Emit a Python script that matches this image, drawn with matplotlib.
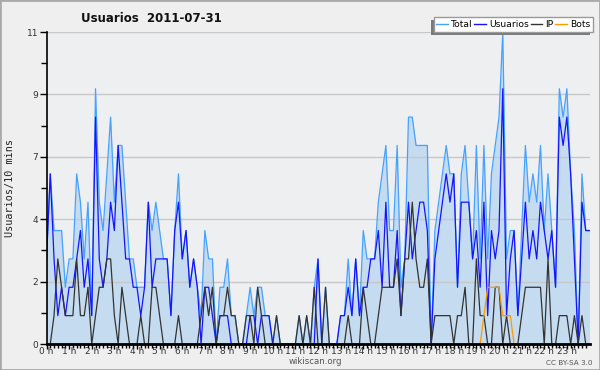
import matplotlib
matplotlib.use('Agg')
import matplotlib.pyplot as plt
import numpy as np
from matplotlib.patches import Rectangle
from matplotlib.lines import Line2D
from matplotlib.transforms import IdentityTransform

plt.rcParams['font.family'] = ['DejaVu Sans']

# values per 10 minutes, 00:00 .. 24:00
total = [3, 6, 4, 4, 4, 2, 3, 3, 6, 5, 3, 5, 1, 9, 5, 4, 6, 8, 5, 7, 7, 5, 3, 3, 2, 2, 2, 5,
         4, 5, 4, 3, 3, 1, 4, 6, 3, 4, 2, 3, 2, 1, 4, 3, 3, 0, 2, 2, 3, 1, 1, 0, 0, 1, 2, 1, 2, 2, 1, 1, 0,
         1, 0, 0, 0, 0, 0, 1, 0, 1, 0, 2, 3, 0, 2, 0, 0, 0, 1, 1, 3, 1, 3, 1, 4,
         3, 3, 3, 5, 6, 7, 4, 4, 7, 2, 3, 8, 8, 7, 7, 7, 7,
         0, 4, 5, 6, 7, 6, 6, 2, 6, 7, 5, 3, 7, 3, 7, 3, 6, 7, 8, 11, 3, 4, 4, 1, 4, 7, 5, 6, 5, 7,
         4, 6, 4, 2, 9, 8, 9, 6, 4, 0, 6, 4, 4]
usuarios = [3, 6, 3, 1, 2, 1, 2, 2, 3, 4, 2, 3, 1, 8, 3, 2, 3, 5, 4, 7, 5, 3, 3, 2, 2, 1, 2, 5,
            2, 3, 3, 3, 3, 1, 4, 5, 3, 4, 2, 3, 2, 0, 2, 2, 1, 0, 1, 1, 1, 0, 0, 0, 0, 0, 1, 1, 0, 1, 1, 1, 0,
            0, 0, 0, 0, 0, 0, 0, 0, 0, 0, 0, 3, 0, 0, 0, 0, 0, 1, 1, 2, 1, 3, 1, 2,
            2, 3, 3, 4, 2, 5, 2, 2, 4, 1, 3, 5, 3, 4, 5, 5, 4,
            0, 3, 4, 5, 6, 5, 6, 2, 5, 5, 5, 3, 4, 2, 5, 1, 4, 3, 4, 9, 1, 3, 4, 1, 3, 5, 3, 4, 3, 5,
            4, 3, 4, 2, 8, 7, 8, 6, 3, 0, 5, 4, 4]
ip = [0, 0, 1, 3, 2, 1, 1, 1, 3, 1, 1, 2, 0, 1, 2, 2, 3, 3, 1, 0, 2, 1, 0, 0, 0, 1, 0, 0,
      2, 2, 1, 0, 0, 0, 0, 1, 0, 0, 0, 0, 0, 1, 2, 1, 2, 0, 1, 1, 2, 1, 1, 0, 0, 1, 1, 0, 2, 1, 0, 0, 0,
      1, 0, 0, 0, 0, 0, 1, 0, 1, 0, 2, 0, 0, 2, 0, 0, 0, 0, 0, 1, 0, 0, 0, 2,
      1, 0, 0, 1, 2, 2, 2, 2, 3, 1, 3, 3, 5, 3, 2, 2, 3,
      0, 1, 1, 1, 1, 1, 0, 1, 1, 2, 0, 0, 3, 1, 1, 0, 0, 2, 2, 0, 1, 0, 0, 0, 1, 2, 2, 2, 2, 2,
      0, 3, 0, 0, 1, 1, 1, 0, 1, 0, 1, 0, 0]
bots = [0, 0, 0, 0, 0, 0, 0, 0, 0, 0, 0, 0, 0, 0, 0, 0, 0, 0, 0, 0, 0, 0, 0, 0, 0, 0, 0, 0,
        0, 0, 0, 0, 0, 0, 0, 0, 0, 0, 0, 0, 0, 0, 0, 0, 0, 0, 0, 0, 0, 0, 0, 0, 0, 0, 0, 0, 0, 0, 0, 0, 0,
        0, 0, 0, 0, 0, 0, 0, 0, 0, 0, 0, 0, 0, 0, 0, 0, 0, 0, 0, 0, 0, 0, 0, 0,
        0, 0, 0, 0, 0, 0, 0, 0, 0, 0, 0, 0, 0, 0, 0, 0, 0,
        0, 0, 0, 0, 0, 0, 0, 0, 0, 0, 0, 0, 0, 0, 1, 2, 2, 2, 2, 1, 1, 1, 0, 0, 0, 0, 0, 0, 0, 0,
        0, 0, 0, 0, 0, 0, 0, 0, 0, 0, 0, 0, 0]

hour_labels = ['%d h' % h for h in range(24)]
y_ticks = [0, 2.2, 4.4, 6.6, 8.8, 11]
y_tick_labels = ['0', '2', '4', '7', '9', '11']
series_names = ['Total', 'Usuarios', 'IP', 'Bots']
colors = ['#45a2ff', '#1414ff', '#333333', '#ff9900']

W, H = 600, 370
fig = plt.figure(figsize=(6, 3.7), dpi=100, facecolor='#efefef')
ax = fig.add_axes([46.5 / W, 26 / H, 543 / W, 312 / H])
ax.set_facecolor('#eeeff1')

x = np.arange(len(total)) / 6.0
ax.fill_between(x, total, 0, color='#c4dbf0', lw=0, zorder=1)
for vals, c, z in zip([total, usuarios, ip, bots], colors, [3, 4, 5, 6]):
    ax.plot(x, vals, color=c, lw=0.9, zorder=z)

ax.set_xlim(0, 24)
ax.set_ylim(0, 11)
ax.set_axisbelow('line')
ax.yaxis.grid(True, color='#c8c8c8', lw=1)

ax.set_yticks(y_ticks)
ax.set_yticklabels(y_tick_labels)
ax.set_yticks(np.arange(1.1, 11, 2.2), minor=True)
ax.set_xticks(np.arange(24))
ax.set_xticklabels(hour_labels)
ax.set_xticks(np.arange(0, 24, 1 / 6), minor=True)
ax.tick_params(axis='y', which='major', labelsize=6.5, labelcolor='#333333',
               length=5, width=1, direction='out', color='black', pad=1)
ax.tick_params(axis='y', which='minor', length=4, width=1, color='black')
ax.tick_params(axis='x', which='major', labelsize=6.5, labelcolor='#333333',
               length=3.5, width=1, direction='out', color='black', pad=-1.5)
ax.tick_params(axis='x', which='minor', length=3, width=1, color='black')

for s in ['top', 'right']:
    ax.spines[s].set_visible(False)
ax.spines['left'].set_linewidth(1.2)
ax.spines['bottom'].set_linewidth(2)
for s in ax.spines.values():
    s.set_zorder(10)

ax.set_ylabel('Usuarios/10 mins', family='DejaVu Sans Mono', fontsize=7.3,
              color='#222222')
ax.yaxis.set_label_coords(-0.058, 0.5)

fig.text(151 / W, 1 - 18 / H, 'Usuarios  2011-07-31', ha='center', va='center',
         fontsize=8.5, fontweight='bold', color='#111111')
fig.text(315 / W, 1 - 362 / H, 'wikiscan.org', ha='center', va='center',
         fontsize=6.2, color='#555555')
fig.text(569 / W, 1 - 363 / H, 'CC BY-SA 3.0', ha='center', va='center',
         fontsize=5.2, color='#555555')

handles = [Line2D([], [], color=c, lw=1) for c in colors]
leg = fig.legend(handles, series_names, loc='upper right',
                 bbox_to_anchor=(593 / W, 1 - 17 / H), ncol=4, frameon=True,
                 fancybox=False, edgecolor='#999999', facecolor='white', framealpha=1,
                 fontsize=6.6, handlelength=1.25, handletextpad=0.35, columnspacing=0.2,
                 borderpad=0.3, borderaxespad=0)
leg.get_frame().set_linewidth(1)
leg.set_zorder(20)

fig.canvas.draw()
bb = leg.get_window_extent()
fig.add_artist(Rectangle((bb.x0 - 3, bb.y0 - 3), bb.width, bb.height,
                         transform=IdentityTransform(), facecolor='#7a7a7a',
                         edgecolor='none', zorder=19))

fig.add_artist(Rectangle((0, 0), 1, 1, transform=fig.transFigure, fill=False,
                         edgecolor='#aaaaaa', lw=2, zorder=30))

fig.savefig('out.png', dpi=100, facecolor=fig.get_facecolor())
